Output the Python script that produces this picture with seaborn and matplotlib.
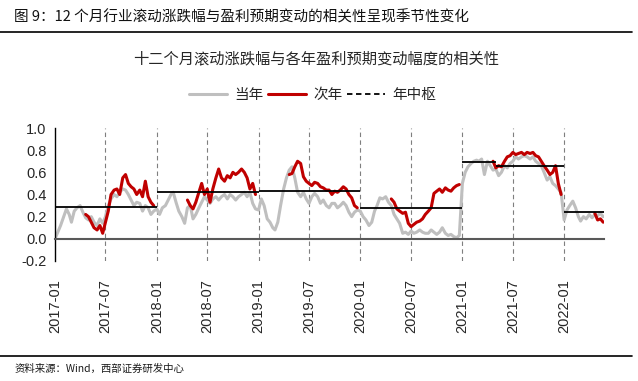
"""
图9 - 12个月滚动涨跌幅与盈利预期变动的相关性
"""

import matplotlib
matplotlib.use('Agg')
import matplotlib.pyplot as plt
from matplotlib.lines import Line2D
import matplotlib.dates as mdates
import seaborn as sns
import numpy as np
import pandas as pd

sns.set_style("white")
plt.rcParams['font.family'] = ['Noto Sans CJK SC', 'DejaVu Sans']

# 当年 (gray) - three readings per month (1st, 11th, 21st), Jan 2017 .. May 2022
dangnian_2017 = [0.00, 0.06, 0.12, 0.20, 0.27, 0.22, 0.15, 0.25, 0.28, 0.30, 0.24, 0.19,
                 0.17, 0.20, 0.15, 0.12, 0.18, 0.14, 0.20, 0.30, 0.36, 0.40, 0.38, 0.42,
                 0.45, 0.44, 0.40, 0.35, 0.30, 0.33, 0.32, 0.25, 0.30, 0.28, 0.22, 0.25]
dangnian_2018 = [0.27, 0.22, 0.28, 0.30, 0.35, 0.40, 0.42, 0.33, 0.25, 0.20, 0.14, 0.28,
                 0.30, 0.18, 0.22, 0.28, 0.33, 0.38, 0.35, 0.32, 0.36, 0.38, 0.35, 0.38,
                 0.40, 0.36, 0.40, 0.38, 0.35, 0.38, 0.40, 0.42, 0.38, 0.42, 0.32, 0.27]
dangnian_2019 = [0.26, 0.36, 0.30, 0.18, 0.15, 0.10, 0.08, 0.15, 0.30, 0.45, 0.55, 0.62,
                 0.65, 0.55, 0.42, 0.38, 0.42, 0.36, 0.32, 0.38, 0.41, 0.38, 0.32, 0.35,
                 0.30, 0.28, 0.32, 0.32, 0.28, 0.30, 0.33, 0.30, 0.24, 0.20, 0.24, 0.26]
dangnian_2020 = [0.25, 0.20, 0.17, 0.12, 0.15, 0.25, 0.30, 0.37, 0.36, 0.38, 0.33, 0.30,
                 0.22, 0.18, 0.14, 0.05, 0.06, 0.04, 0.07, 0.05, 0.06, 0.08, 0.06, 0.05,
                 0.05, 0.08, 0.06, 0.04, 0.06, 0.10, 0.05, 0.03, 0.04, 0.02, 0.01, 0.03]
dangnian_2021 = [0.50, 0.60, 0.65, 0.68, 0.70, 0.71, 0.70, 0.72, 0.58, 0.70, 0.66, 0.62,
                 0.63, 0.57, 0.60, 0.66, 0.64, 0.68, 0.70, 0.74, 0.72, 0.74, 0.75, 0.74,
                 0.72, 0.74, 0.70, 0.68, 0.66, 0.60, 0.53, 0.56, 0.50, 0.48, 0.45, 0.42]
dangnian_2022 = [0.17, 0.26, 0.30, 0.34, 0.28, 0.20, 0.16, 0.20, 0.18, 0.22, 0.19, 0.22,
                 0.21, 0.23, 0.20]

# 次年 (red) - from Apr 21 of each year to year end
cinian_2017 = [0.22, 0.20, 0.15, 0.10, 0.08, 0.12, 0.05, 0.15, 0.25, 0.40, 0.44, 0.45, 0.40,
               0.55, 0.58, 0.50, 0.47, 0.45, 0.40, 0.44, 0.38, 0.52, 0.38, 0.33, 0.30]
cinian_2018 = [0.35, 0.30, 0.27, 0.33, 0.42, 0.50, 0.40, 0.45, 0.33, 0.45, 0.55, 0.63, 0.55,
               0.52, 0.57, 0.55, 0.60, 0.58, 0.60, 0.63, 0.60, 0.55, 0.45, 0.50, 0.40]
cinian_2019 = [0.58, 0.59, 0.65, 0.70, 0.68, 0.56, 0.52, 0.50, 0.48, 0.51, 0.50, 0.47, 0.46,
               0.44, 0.44, 0.40, 0.43, 0.42, 0.44, 0.47, 0.45, 0.40, 0.37, 0.30, 0.28]
cinian_2020 = [0.36, 0.33, 0.27, 0.25, 0.23, 0.24, 0.14, 0.11, 0.13, 0.15, 0.16, 0.18, 0.22,
               0.25, 0.28, 0.41, 0.43, 0.45, 0.42, 0.46, 0.44, 0.43, 0.46, 0.48, 0.49]
cinian_2021 = [0.70, 0.64, 0.66, 0.65, 0.70, 0.74, 0.75, 0.78, 0.76, 0.77, 0.78, 0.76, 0.78,
               0.77, 0.78, 0.75, 0.74, 0.70, 0.66, 0.62, 0.58, 0.60, 0.66, 0.50, 0.40]
cinian_2022 = [0.23, 0.17, 0.18, 0.15]

# 年中枢
zs_start = ['2017-01-01', '2018-01-01', '2019-01-01', '2020-01-01', '2021-01-01', '2021-05-01', '2022-01-01']
zs_end = ['2018-01-01', '2019-01-01', '2020-01-01', '2021-01-01', '2021-05-01', '2022-01-01', '2022-05-25']
zs_level = [0.29, 0.42, 0.43, 0.28, 0.69, 0.66, 0.24]

tick_dates = ['2017-01', '2017-07', '2018-01', '2018-07', '2019-01', '2019-07',
              '2020-01', '2020-07', '2021-01', '2021-07', '2022-01']


def dekads(start, n):
    """dates on the 1st, 11th and 21st of each month, n of them"""
    months = pd.date_range(start, periods=n // 3 + 1, freq='MS')
    out = []
    for m in months:
        for d in (0, 10, 20):
            out.append(m + pd.Timedelta(days=d))
    return out[:n]


gray_vals = dangnian_2017 + dangnian_2018 + dangnian_2019 + dangnian_2020 + dangnian_2021 + dangnian_2022
gray_df = pd.DataFrame({'date': dekads('2017-01-01', len(gray_vals)), 'value': gray_vals})

red_parts = []
for yr, vals in zip([2017, 2018, 2019, 2020, 2021, 2022],
                    [cinian_2017, cinian_2018, cinian_2019, cinian_2020, cinian_2021, cinian_2022]):
    dates = [pd.Timestamp(f'{yr}-04-21')] + dekads(f'{yr}-05-01', len(vals) - 1)
    red_parts.append(pd.DataFrame({'date': dates, 'value': vals, 'seg': yr}))
red_df = pd.concat(red_parts, ignore_index=True)

GRAY = '#BFBFBF'
RED = '#C00000'

fig = plt.figure(figsize=(6.38, 3.81), dpi=100)
ax = fig.add_axes([0.0862, 0.315, 0.861, 0.349])

# vertical dashed guides at each tick
for t in tick_dates[1:]:
    ax.axvline(pd.Timestamp(t), color='#7F7F7F', lw=0.8, ls=(0, (4, 3)), zorder=0)

sns.lineplot(data=gray_df, x='date', y='value', color=GRAY, lw=2.2, ax=ax, zorder=2)
sns.lineplot(data=red_df, x='date', y='value', units='seg', estimator=None,
             color=RED, lw=2.2, ax=ax, zorder=3)
ax.hlines(zs_level, pd.to_datetime(zs_start), pd.to_datetime(zs_end),
          color='black', lw=1.3, zorder=4)

ax.set_xlim(pd.Timestamp('2017-01-01'), pd.Timestamp('2022-05-25'))
ax.set_ylim(-0.2, 1.0)
ax.set_yticks(np.arange(-0.2, 1.01, 0.2))
ax.yaxis.set_major_formatter(plt.FormatStrFormatter('%.1f'))
ax.set_xticks(pd.to_datetime(tick_dates))
ax.xaxis.set_major_formatter(mdates.DateFormatter('%Y-%m'))
ax.set_xlabel('')
ax.set_ylabel('')

for s in ['top', 'right']:
    ax.spines[s].set_visible(False)
ax.spines['bottom'].set_position(('data', 0))
ax.spines['bottom'].set_color('#595959')
ax.spines['bottom'].set_linewidth(1.5)
ax.spines['left'].set_color('black')
ax.spines['left'].set_linewidth(1.0)

ax.tick_params(axis='x', direction='in', length=4, width=1, color='#404040',
               pad=29, labelrotation=90, labelsize=10.5)
ax.tick_params(axis='y', direction='in', length=4, width=1, labelsize=10.5, pad=6)
for lbl in ax.get_xticklabels() + ax.get_yticklabels():
    lbl.set_family(['Liberation Sans', 'DejaVu Sans'])

# titles and frame lines
fig.text(0.022, 0.955, '图 9：12 个月行业滚动涨跌幅与盈利预期变动的相关性呈现季节性变化',
         fontsize=10.5, va='center', ha='left', color='#111111', weight='medium')
fig.add_artist(Line2D([0.0, 0.99], [0.915, 0.915], color='black', lw=1.2))
fig.text(0.495, 0.845, '十二个月滚动涨跌幅与各年盈利预期变动幅度的相关性',
         fontsize=11, ha='center', va='center', color='#262626')

handles = [Line2D([], [], color=GRAY, lw=2.2),
           Line2D([], [], color=RED, lw=2.2),
           Line2D([], [], color='black', lw=1.3, ls=(0, (3, 2)))]
fig.legend(handles, ['当年', '次年', '年中枢'], loc='center', bbox_to_anchor=(0.49, 0.75),
           ncol=3, frameon=False, fontsize=10.5, handlelength=2.6, handletextpad=0.5,
           columnspacing=0.3)

fig.add_artist(Line2D([0.0, 0.99], [0.065, 0.065], color='black', lw=1.2))
fig.text(0.022, 0.033, '资料来源：Wind，西部证券研发中心', fontsize=7.5, va='center', ha='left',
         color='#1a1a1a')

plt.savefig('out.png', dpi=100)
plt.close()
print("out.png created")
